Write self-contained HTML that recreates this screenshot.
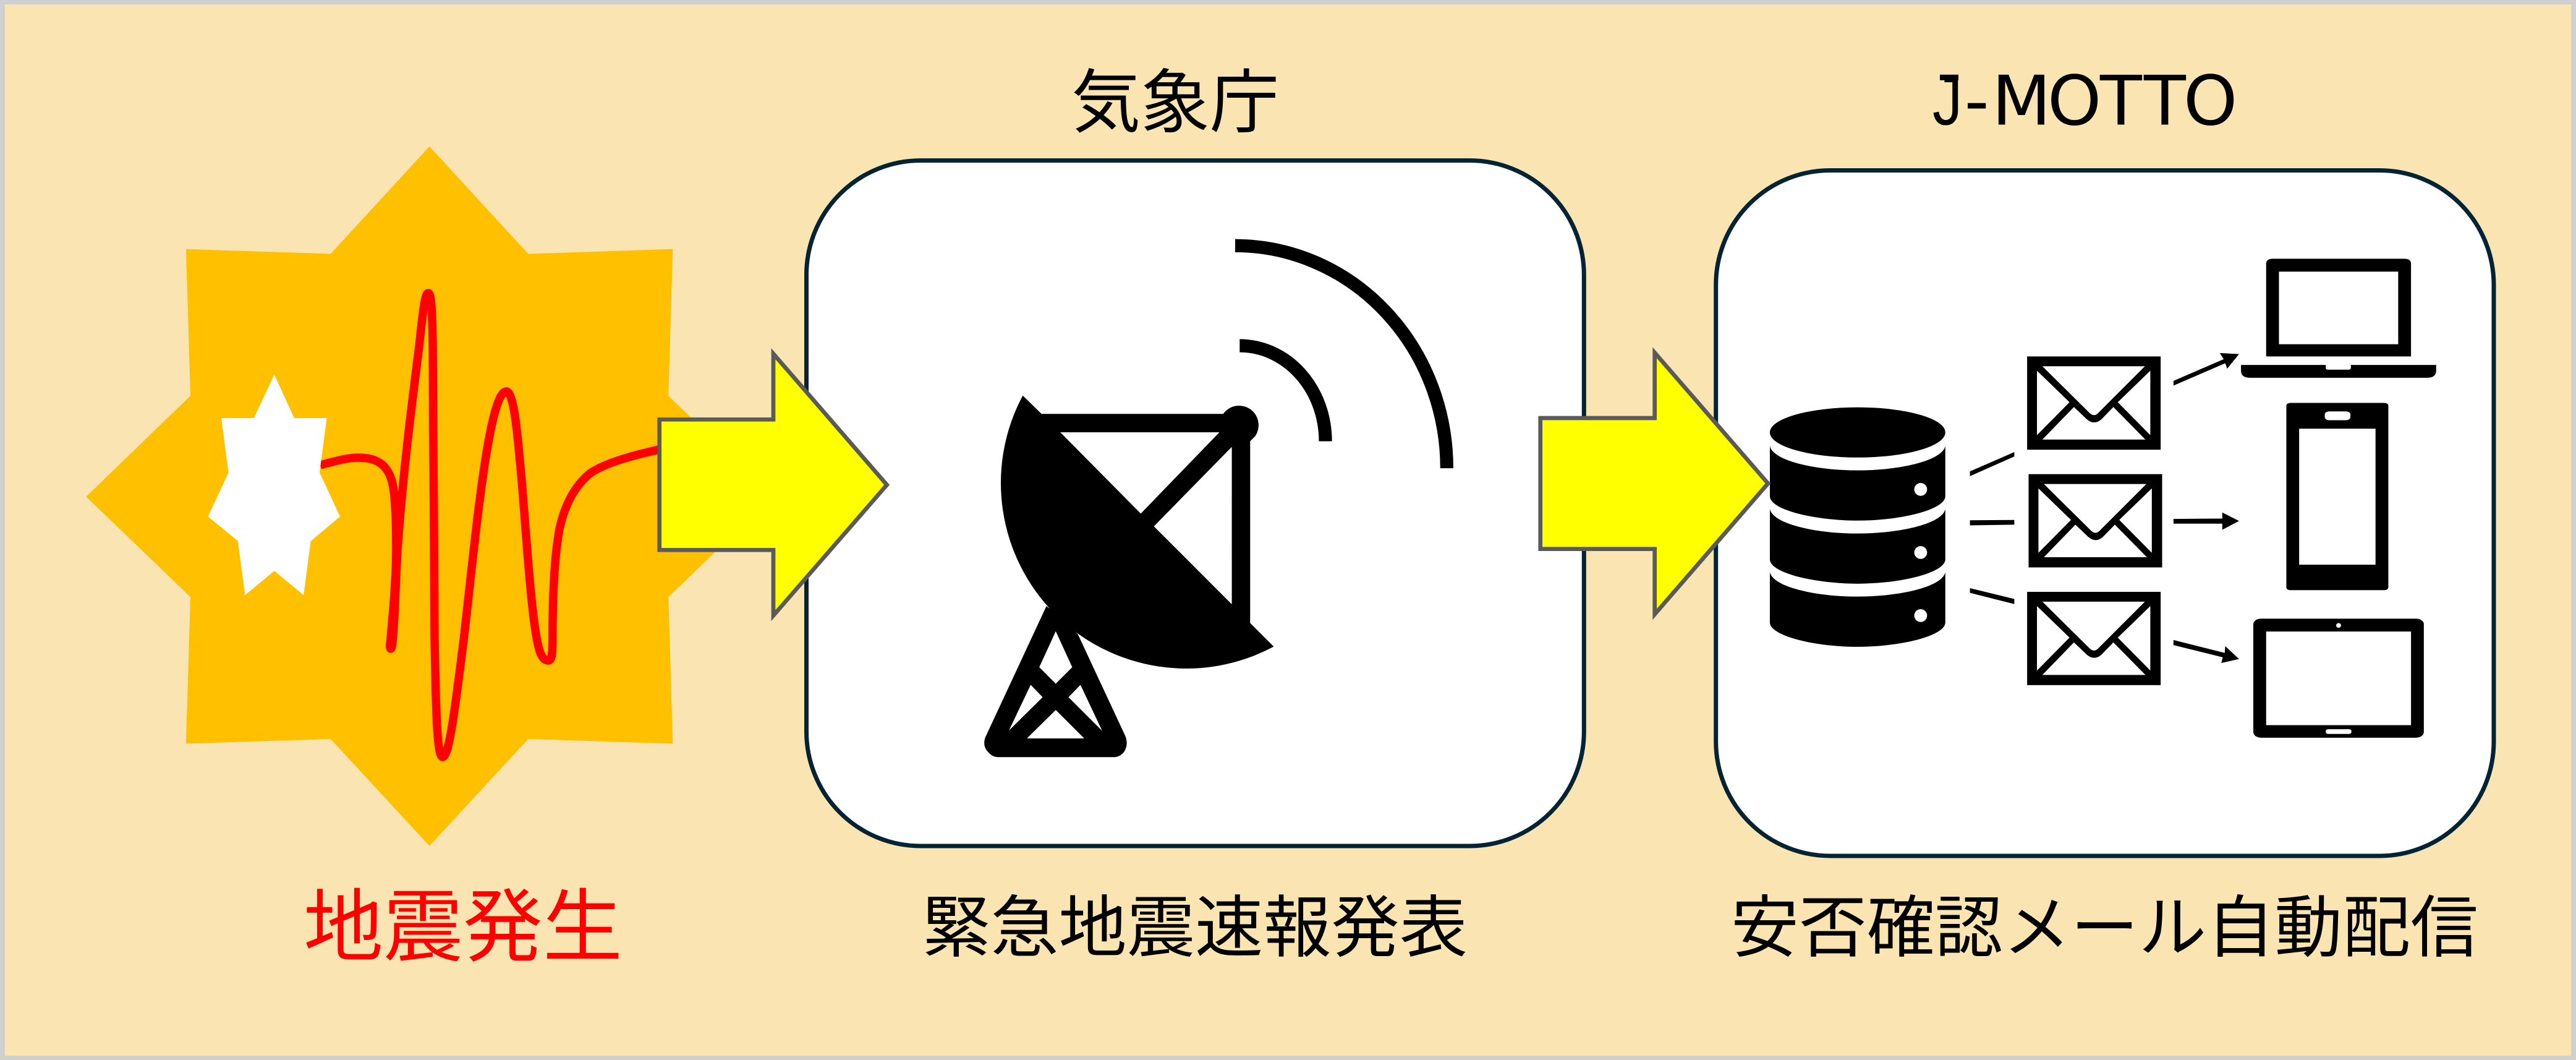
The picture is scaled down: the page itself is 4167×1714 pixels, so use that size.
<!DOCTYPE html>
<html><head><meta charset="utf-8"><style>
html,body{margin:0;padding:0;background:#FAE5B2}
svg{display:block}
text{font-family:"Liberation Sans","Noto Sans CJK JP",sans-serif}
</style></head><body>
<svg xmlns="http://www.w3.org/2000/svg" width="4167" height="1714" viewBox="0 0 4167 1714">
<defs>
<g id="env">
<rect x="601" y="358" width="271" height="275" fill="#000"/>
<path fill="#fff" d="M632,387H840L745,525Q737,537 728,525Z"/>
<path fill="#fff" d="M621,400L687,493L621,590Z"/>
<path fill="#fff" d="M851,400L785,493L851,590Z"/>
<path fill="#fff" d="M632,603L696,507L722,543Q737,562 752,543L776,507L841,603Z"/>
</g>
</defs>
<rect x="0" y="0" width="4167" height="1714" fill="#D0D0D0"/>
<rect x="8" y="7" width="4151" height="1700" fill="#FAE5B2"/>

<!-- earthquake -->
<g transform="translate(100,200) scale(.89286,.76531)">
<polygon fill="#FFC000" points="666,48 845,275 1107,265 1099,575 1288,788 1099,1000 1107,1310 845,1300 666,1526 487,1300 225,1310 233,1000 44,788 233,575 225,265 487,275"/>
</g>
<path fill="none" stroke="#FF0000" stroke-width="13.5" stroke-linejoin="round" stroke-linecap="butt" d="M518,752 C545,745 562,740 580,740 C608,740 626,750 634,778 C641,805 642,880 640,925 C638,970 633,1020 631,1042 C630,1050 633,1051 634,1045 C638,1020 640,940 643,890 C652,760 668,640 678,560 C684,505 687,474 692.7,474 C697,474 699,490 700,560 C702,700 701,900 703,1030 C705,1150 707,1224 716,1224 C726,1224 735,1155 750,1035 C768,880 790,633 819,633 C832,633 838,710 845,790 C852,880 858,960 864,1005 C870,1050 875,1068 887,1068 C896,1068 893,1040 894,1000 C895,950 897,900 905,855 C914,815 930,785 955,765 C980,748 1025,736 1070,726"/>
<g transform="translate(100,200) scale(.89286,.76531)">
<polygon fill="#fff" points="385,530 421,622 480,622 467,737 504,830 451,882 438,996 385,945 332,996 319,882 265,830 302,737 289,622 348,622"/>
</g>

<!-- boxes -->
<rect x="1304.5" y="259.5" width="1257.8" height="1108.5" rx="185" ry="185" fill="#fff" stroke="#042433" stroke-width="7"/>
<rect x="2775.7" y="275.5" width="1258.3" height="1108.5" rx="185" ry="185" fill="#fff" stroke="#042433" stroke-width="7"/>

<!-- antenna -->
<g transform="translate(1500,350) scale(.60588)">
<path fill="#000" d="M255,478 A495,495 0 0 0 925,1148 L862,1085 V600 L875,587 A52,52 0 1 0 790,527 H305 Z"/>
<polygon fill="#fff" points="355,576 780,576 570,793"/>
<polygon fill="#fff" points="813,615 813,1035 605,827"/>
<path fill="#000" d="M318,1040 L155,1390 Q146,1415 165,1432 Q175,1443 190,1443 H497 Q515,1443 526,1428 Q538,1408 528,1385 L402,1115 L360,1070 Z"/>
<polygon fill="#fff" points="343,1107 387,1203 343,1247 299,1203"/>
<polygon fill="#fff" points="276,1250 308,1283 218,1372"/>
<polygon fill="#fff" points="409,1250 377,1283 467,1373"/>
<polygon fill="#fff" points="343,1317 419,1393 266,1393"/>
<path fill="none" stroke="#000" stroke-width="35" d="M822,78 A565,594 0 0 1 1387,672"/>
<path fill="none" stroke="#000" stroke-width="35" d="M834,345 A229,255 0 0 1 1063,600"/>
</g>

<!-- right panel -->
<g transform="translate(2800,380) scale(.79719,.54847)">
<ellipse cx="257" cy="582" rx="178" ry="74"/>
<path id="seg" d="M79,622 C85,665 170,694 257,694 C344,694 429,665 435,622 L435,770 C435,810 344,842 257,842 C170,842 79,810 79,770 Z"/>
<use href="#seg" y="186"/>
<use href="#seg" y="372"/>
<ellipse cx="385" cy="750" rx="13" ry="19" fill="#fff"/>
<ellipse cx="385" cy="936" rx="13" ry="19" fill="#fff"/>
<ellipse cx="385" cy="1122" rx="13" ry="19" fill="#fff"/>

<polygon points="485,697 575,640 575,653 485,711"/>
<polygon points="485,841 575,840 575,854 485,856"/>
<polygon points="485,1041 575,1073 575,1088 485,1055"/>

<use href="#env"/>
<use href="#env" x="3" y="347"/>
<use href="#env" y="694"/>

<polygon points="898,430 1000,366 992,348 1031,351 1007,394 1003,378 898,444"/>
<polygon points="898,837 997,836 997,818 1031,843 997,869 997,851 898,851"/>
<polygon points="898,1194 1002,1232 1003,1212 1031,1250 995,1262 998,1245 898,1209"/>

<!-- laptop -->
<path d="M1086,358 V85 Q1086,70 1100,70 H1366 Q1380,70 1380,85 V358 Z"/>
<rect x="1112" y="108" width="242" height="214" fill="#fff"/>
<path d="M1035,383 H1207 V392 Q1207,397 1212,397 H1253 Q1258,397 1258,392 V383 H1431 V400 Q1431,421 1412,421 H1054 Q1035,421 1035,400Z"/>
<!-- phone -->
<rect x="1127" y="495" width="207" height="552" rx="8" ry="8"/>
<rect x="1153" y="571" width="155" height="401" fill="#fff"/>
<rect x="1205" y="520" width="52" height="26" rx="9" ry="9" fill="#fff"/>
<!-- tablet -->
<rect x="1060" y="1131" width="346" height="351" rx="16" ry="16"/>
<rect x="1086" y="1169" width="294" height="276" fill="#fff"/>
<ellipse cx="1233" cy="1151" rx="5" ry="7" fill="#fff"/>
<rect x="1207" y="1457" width="52" height="14" rx="5" ry="5" fill="#fff"/>
</g>

<!-- block arrows -->
<polygon fill="#FFFF00" stroke="#5A5A5A" stroke-width="6.7" stroke-linejoin="miter" stroke-miterlimit="10" points="1066.7,678.3 1251,678.3 1251,572 1434.7,784 1251,995.3 1251,889.3 1066.7,889.3"/>
<polygon fill="#FFFF00" stroke="#5A5A5A" stroke-width="6.7" stroke-linejoin="miter" stroke-miterlimit="10" points="2491.7,676 2676.7,676 2676.7,570.3 2860,781.7 2676.7,993.3 2676.7,887.7 2491.7,887.7"/>

<!-- text -->
<text x="1733" y="204.5" font-size="112" textLength="336" lengthAdjust="spacingAndGlyphs" fill="#000">気象庁</text>
<text x="3126" y="201.7" font-size="111" textLength="48.4" lengthAdjust="spacingAndGlyphs" fill="#000">J</text>
<rect x="3138" y="120.7" width="30" height="9" fill="#000"/>
<text x="3177.6 3222 3312 3397 3468 3532" y="201.7" font-size="111" fill="#000" style="font-family:'DejaVu Sans',sans-serif">-MOTTO</text>
<text x="491" y="1544" font-size="129" textLength="516" lengthAdjust="spacingAndGlyphs" fill="#FF0000">地震発生</text>
<text x="1492" y="1538" font-size="109" textLength="882" lengthAdjust="spacingAndGlyphs" fill="#000">緊急地震速報発表</text>
<text x="2800" y="1538" font-size="109" textLength="1209" lengthAdjust="spacingAndGlyphs" fill="#000">安否確認メール自動配信</text>
</svg>
</body></html>
